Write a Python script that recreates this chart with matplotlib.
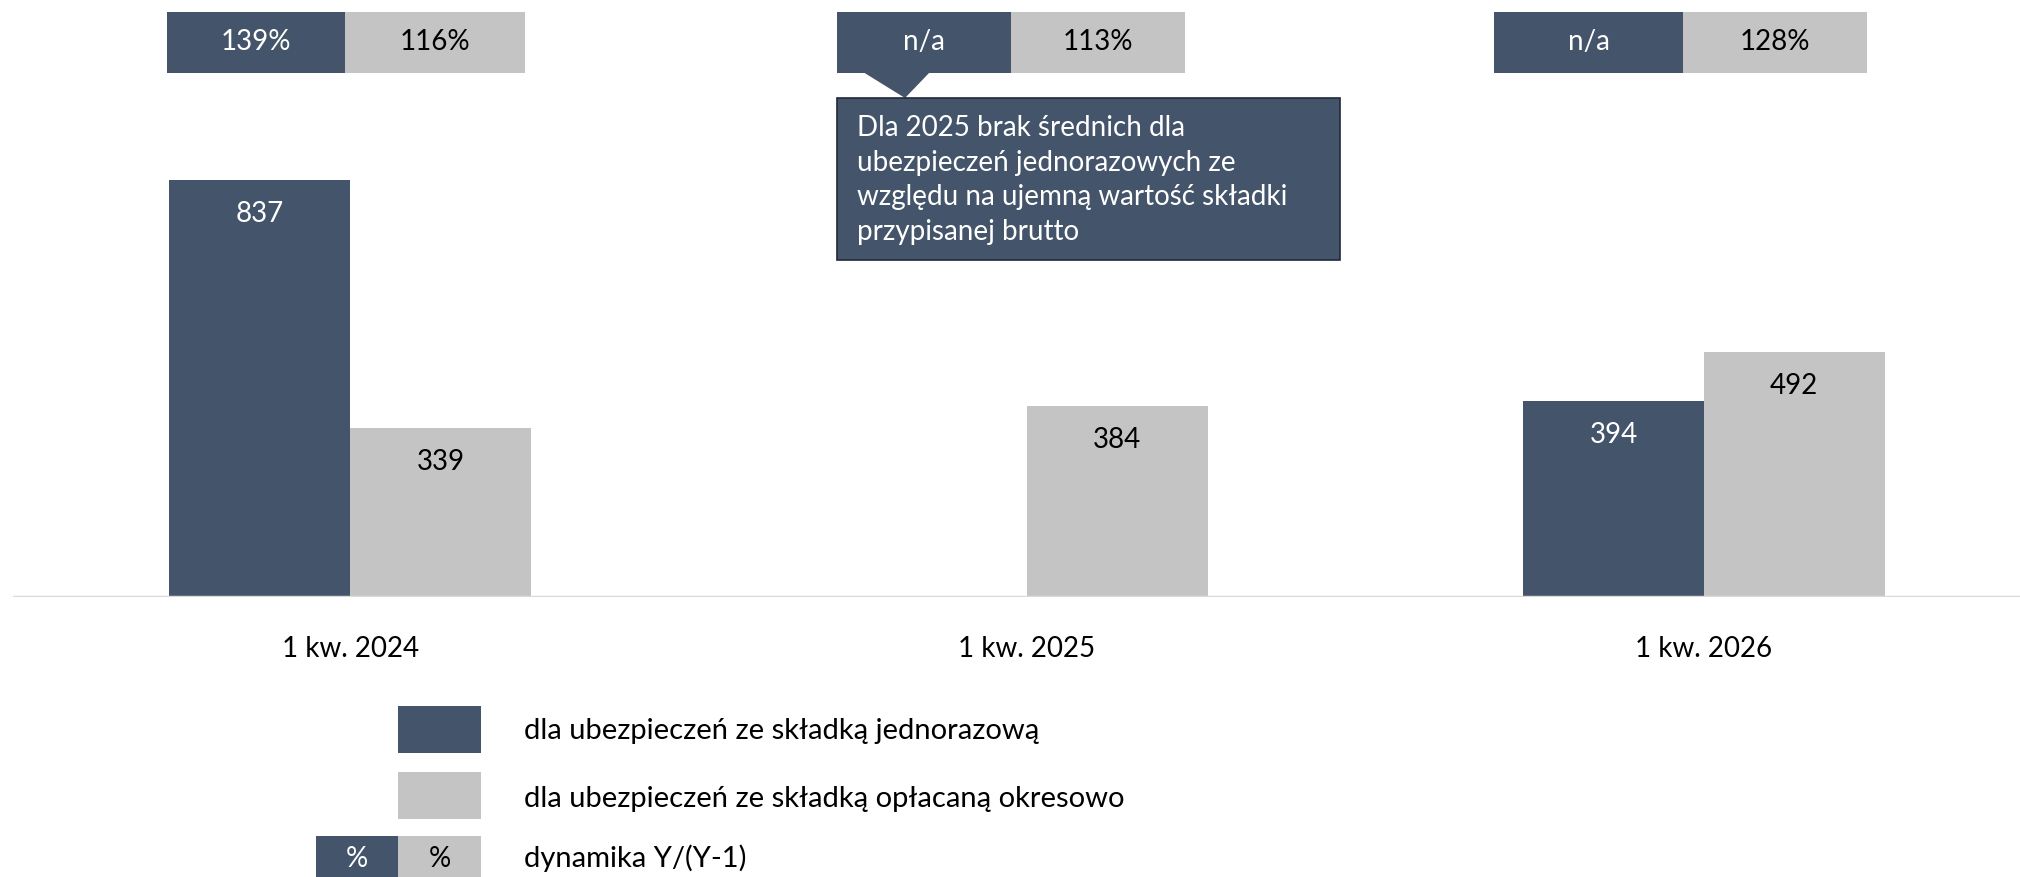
import matplotlib.pyplot as plt
from matplotlib.patches import Rectangle, Polygon
import numpy as np

plt.rcParams['font.family'] = ['Lato', 'DejaVu Sans']

# data
categories = ['1 kw. 2024', '1 kw. 2025', '1 kw. 2026']
single_premium = [837, None, 394]      # dla ubezpieczeń ze składką jednorazową
regular_premium = [339, 384, 492]      # dla ubezpieczeń ze składką opłacaną okresowo
growth_single = ['139%', 'n/a', 'n/a']
growth_regular = ['116%', '113%', '128%']
note_text = ('Dla 2025 brak średnich dla\n'
             'ubezpieczeń jednorazowych ze\n'
             'względu na ujemną wartość składki\n'
             'przypisanej brutto')
legend_labels = ['dla ubezpieczeń ze składką jednorazową',
                 'dla ubezpieczeń ze składką opłacaną okresowo',
                 'dynamika Y/(Y-1)']

DARK = '#44546A'
LIGHT = '#C4C4C4'
FS = 20

W, H = 2020, 877
fig = plt.figure(figsize=(W / 100, H / 100), dpi=100)

# main bar axes, baseline at y=597 px from top
ax = fig.add_axes([13 / W, (H - 597) / H, (W - 13) / W, 597 / H])
x = np.arange(len(categories))
bw = 0.267

for i in range(len(categories)):
    if single_premium[i] is not None:
        ax.bar(x[i] - bw / 2, single_premium[i], bw, color=DARK)
        ax.annotate(str(single_premium[i]), (x[i] - bw / 2, single_premium[i]),
                    xytext=(0, -24.5), textcoords='offset points',
                    ha='center', va='center', color='white', fontsize=FS)
    ax.bar(x[i] + bw / 2, regular_premium[i], bw, color=LIGHT)
    ax.annotate(str(regular_premium[i]), (x[i] + bw / 2, regular_premium[i]),
                xytext=(0, -24.5), textcoords='offset points',
                ha='center', va='center', color='black', fontsize=FS)

ax.axhline(0, color='#D9D9D9', lw=2.5)
ax.set_xlim(-0.498, 2.467)
ax.set_ylim(0, 1198)
ax.set_xticks(x)
ax.set_xticklabels(categories, fontsize=FS)
ax.tick_params(axis='x', length=0, pad=28)
ax.set_yticks([])
for s in ax.spines.values():
    s.set_visible(False)

# overlay in pixel coords for boxes, callout and legend
ov = fig.add_axes([0, 0, 1, 1])
ov.set_xlim(0, W)
ov.set_ylim(H, 0)
ov.axis('off')

box_left = [167, 837, 1494]
box_mid = [345, 1011, 1683]
box_right = [525, 1185, 1867]
by0, by1 = 12, 73
for i in range(len(categories)):
    ov.add_patch(Rectangle((box_left[i], by0), box_mid[i] - box_left[i], by1 - by0, color=DARK, lw=0))
    ov.add_patch(Rectangle((box_mid[i], by0), box_right[i] - box_mid[i], by1 - by0, color=LIGHT, lw=0))
    ov.text((box_left[i] + box_mid[i]) / 2, (by0 + by1) / 2, growth_single[i],
            ha='center', va='center', color='white', fontsize=FS)
    ov.text((box_mid[i] + box_right[i]) / 2, (by0 + by1) / 2, growth_regular[i],
            ha='center', va='center', color='black', fontsize=FS)

# callout
ov.add_patch(Polygon([(863, 72), (930, 72), (905, 98)], closed=True, color=DARK, lw=0))
ov.add_patch(Rectangle((837, 98), 503, 162, facecolor=DARK, edgecolor='#1F2A38', lw=1.2))
ov.text(857, 180, note_text, ha='left', va='center', color='white',
        fontsize=FS, linespacing=1.42)

# legend
ov.add_patch(Rectangle((398, 706), 83, 47, color=DARK, lw=0))
ov.add_patch(Rectangle((398, 772), 83, 47, color=LIGHT, lw=0))
ov.add_patch(Rectangle((316, 836), 82, 47, color=DARK, lw=0))
ov.add_patch(Rectangle((398, 836), 83, 47, color=LIGHT, lw=0))
ov.text(357, 859, '%', ha='center', va='center', color='white', fontsize=FS)
ov.text(440, 859, '%', ha='center', va='center', color='black', fontsize=FS)
for yy, lab in zip([731, 799, 858], legend_labels):
    ov.text(524, yy, lab, ha='left', va='center', color='black', fontsize=21)

fig.savefig('out.png', dpi=100)
